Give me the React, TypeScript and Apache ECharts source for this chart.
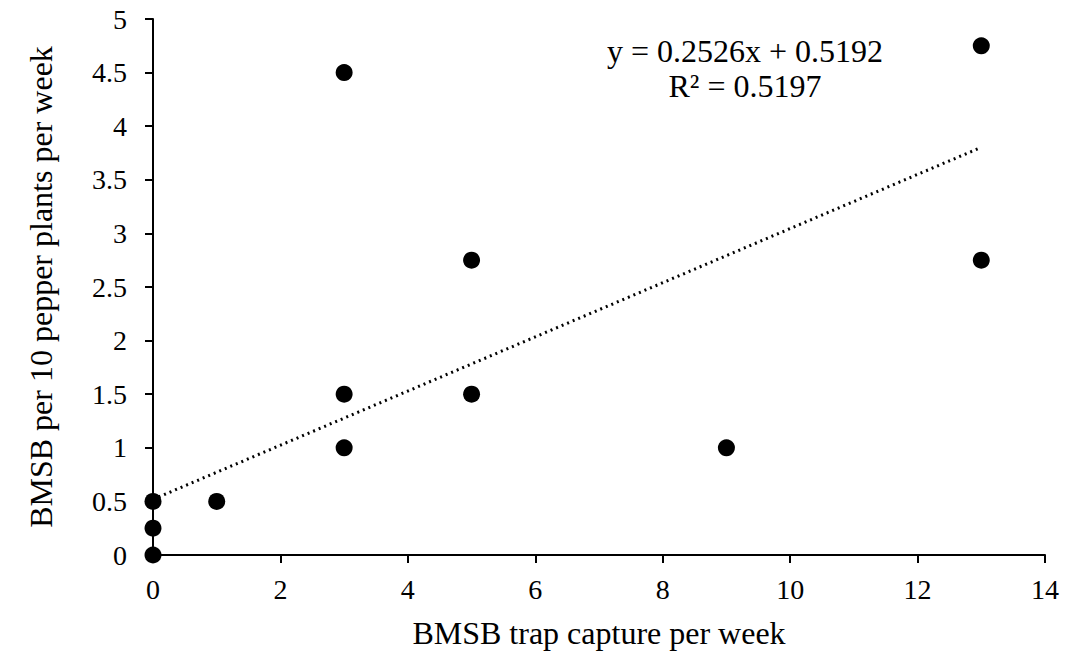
import React, { useEffect, useRef } from "react";
import * as echarts from "echarts";

const trapCapture = [0, 0, 0, 1, 3, 3, 3, 5, 5, 9, 13, 13];
const bmsbPerPlants = [0, 0.25, 0.5, 0.5, 1, 1.5, 4.5, 1.5, 2.75, 1, 2.75, 4.75];
const slope = 0.2526;
const intercept = 0.5192;
const trendX = [0, 13];
const equationText = "y = 0.2526x + 0.5192";
const r2Text = "R² = 0.5197";
const xTitle = "BMSB trap capture per week";
const yTitle = "BMSB per 10 pepper plants per week";

const FONT = "'Liberation Serif', 'Times New Roman', serif";

export default function App() {
  const ref = useRef<HTMLDivElement>(null);
  useEffect(() => {
    if (!ref.current) return;
    const chart = echarts.init(ref.current, undefined, { renderer: "svg" });
    const points = trapCapture.map((x, i) => [x, bmsbPerPlants[i]]);
    const trend = trendX.map((x) => [x, slope * x + intercept]);
    chart.setOption({
      animation: false,
      backgroundColor: "#ffffff",
      grid: { left: 153, right: 21, top: 19, bottom: 104, containLabel: false },
      xAxis: {
        type: "value",
        min: 0,
        max: 14,
        interval: 2,
        name: xTitle,
        nameLocation: "middle",
        nameGap: 62,
        nameTextStyle: { fontFamily: FONT, fontSize: 32, color: "#000" },
        axisLine: { show: true, lineStyle: { color: "#000", width: 2 } },
        axisTick: { show: true, inside: false, length: 8, lineStyle: { color: "#000", width: 2 } },
        axisLabel: { fontFamily: FONT, fontSize: 28, color: "#000", margin: 20 },
        splitLine: { show: false },
      },
      yAxis: {
        type: "value",
        min: 0,
        max: 5,
        interval: 0.5,
        name: yTitle,
        nameLocation: "middle",
        nameGap: 96,
        nameRotate: 90,
        nameTextStyle: { fontFamily: FONT, fontSize: 32, color: "#000" },
        axisLine: { show: true, lineStyle: { color: "#000", width: 2 } },
        axisTick: { show: true, inside: false, length: 8, lineStyle: { color: "#000", width: 2 } },
        axisLabel: { fontFamily: FONT, fontSize: 28, color: "#000", margin: 26 },
        splitLine: { show: false },
      },
      series: [
        {
          type: "line",
          data: trend,
          showSymbol: false,
          symbol: "none",
          lineStyle: { color: "#000", width: 3, type: [2, 4] },
          z: 1,
          silent: true,
        },
        {
          type: "scatter",
          data: points,
          symbol: "circle",
          symbolSize: 17,
          itemStyle: { color: "#000", opacity: 1 },
          z: 2,
        },
      ],
      graphic: [
        {
          type: "text",
          x: 745,
          y: 51,
          style: {
            text: equationText,
            font: `32px ${FONT}`,
            fill: "#000",
            textAlign: "center",
            textVerticalAlign: "middle",
          },
        },
        {
          type: "text",
          x: 745,
          y: 86,
          style: {
            text: r2Text,
            font: `32px ${FONT}`,
            fill: "#000",
            textAlign: "center",
            textVerticalAlign: "middle",
          },
        },
      ],
    });
    return () => chart.dispose();
  }, []);
  return (
    <div
      ref={ref}
      style={{ position: "absolute", left: 0, top: 0, width: 1066, height: 659 }}
    />
  );
}
